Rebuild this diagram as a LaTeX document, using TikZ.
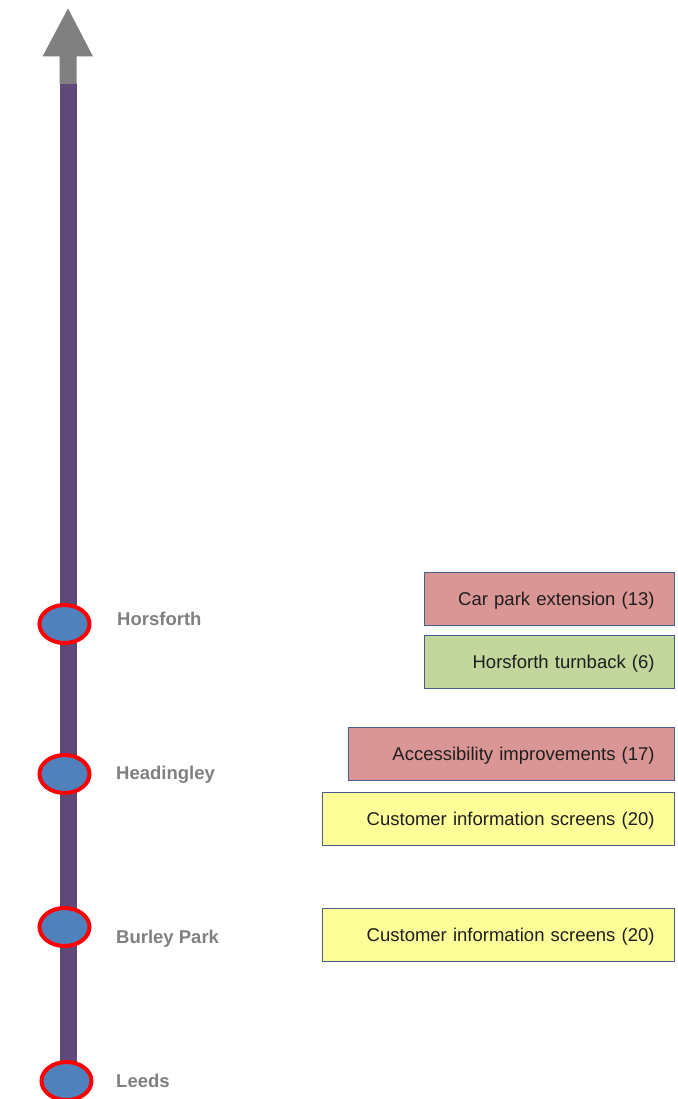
\documentclass[tikz,border=0pt]{standalone}
\usepackage{fontspec}
\setmainfont{Liberation Sans}
\usetikzlibrary{shapes.geometric}
\definecolor{linepurple}{RGB}{95,73,122}
\definecolor{arrowgray}{RGB}{128,128,128}
\definecolor{stationblue}{RGB}{79,129,189}
\definecolor{stationred}{RGB}{255,0,0}
\definecolor{labelgray}{RGB}{128,128,128}
\definecolor{boxedge}{RGB}{70,95,140}
\definecolor{boxred}{RGB}{217,150,148}
\definecolor{boxgreen}{RGB}{195,214,155}
\definecolor{boxyellow}{RGB}{255,255,153}
\definecolor{boxtext}{RGB}{30,30,30}
\begin{document}
\begin{tikzpicture}[x=1pt,y=-1pt,
  station/.style={ellipse, draw=stationred, line width=4pt, fill=stationblue,
    minimum width=50pt, minimum height=38pt, inner sep=0pt},
  stationlabel/.style={anchor=base west, inner sep=0pt, text=labelgray,
    font=\fontsize{18.5}{22}\selectfont\bfseries},
  workbox/.style={draw=boxedge, line width=0.8pt, anchor=east,
    minimum height=53pt, inner xsep=20pt, inner ysep=0pt, align=right,
    text height=15pt, text depth=2pt,
    text=boxtext, font=\fontsize{18.5}{22}\selectfont}]
  \useasboundingbox (0,0) rectangle (677,1099);

  % line of route
  \fill[linepurple] (59.5,83) rectangle (76.5,1075);
  % direction arrow at the top
  \fill[arrowgray] (59.5,84) -- (59.5,56.5) -- (42.5,56.5) -- (68,8.5)
    -- (93,56.5) -- (76.5,56.5) -- (76.5,84) -- cycle;

  % stations
  \node[station] (horsforth) at (64.5,624) {};
  \node[station] (headingley) at (64.5,774) {};
  \node[station] (burley) at (64.5,927) {};
  \node[station] (leeds) at (66.5,1081) {};

  \node[stationlabel] (lhorsforth) at (117,625) {Horsforth};
  \node[stationlabel] (lheadingley) at (116,779) {Headingley};
  \node[stationlabel] (lburley) at (116,943) {Burley Park};
  \node[stationlabel] (lleeds) at (116,1087) {Leeds};

  % schemes at each station
  \node[workbox, fill=boxred, text width=210pt] (carpark) at (675,598.5)
    {Car park extension (13)};
  \node[workbox, fill=boxgreen, text width=210pt] (turnback) at (675,662)
    {Horsforth turnback (6)};
  \node[workbox, fill=boxred, text width=286pt] (access) at (675,753.5)
    {Accessibility improvements (17)};
  \node[workbox, fill=boxyellow, text width=312pt] (cisheadingley) at (675,818.5)
    {Customer information screens (20)};
  \node[workbox, fill=boxyellow, text width=312pt] (cisburley) at (675,935)
    {Customer information screens (20)};
\end{tikzpicture}
\end{document}
